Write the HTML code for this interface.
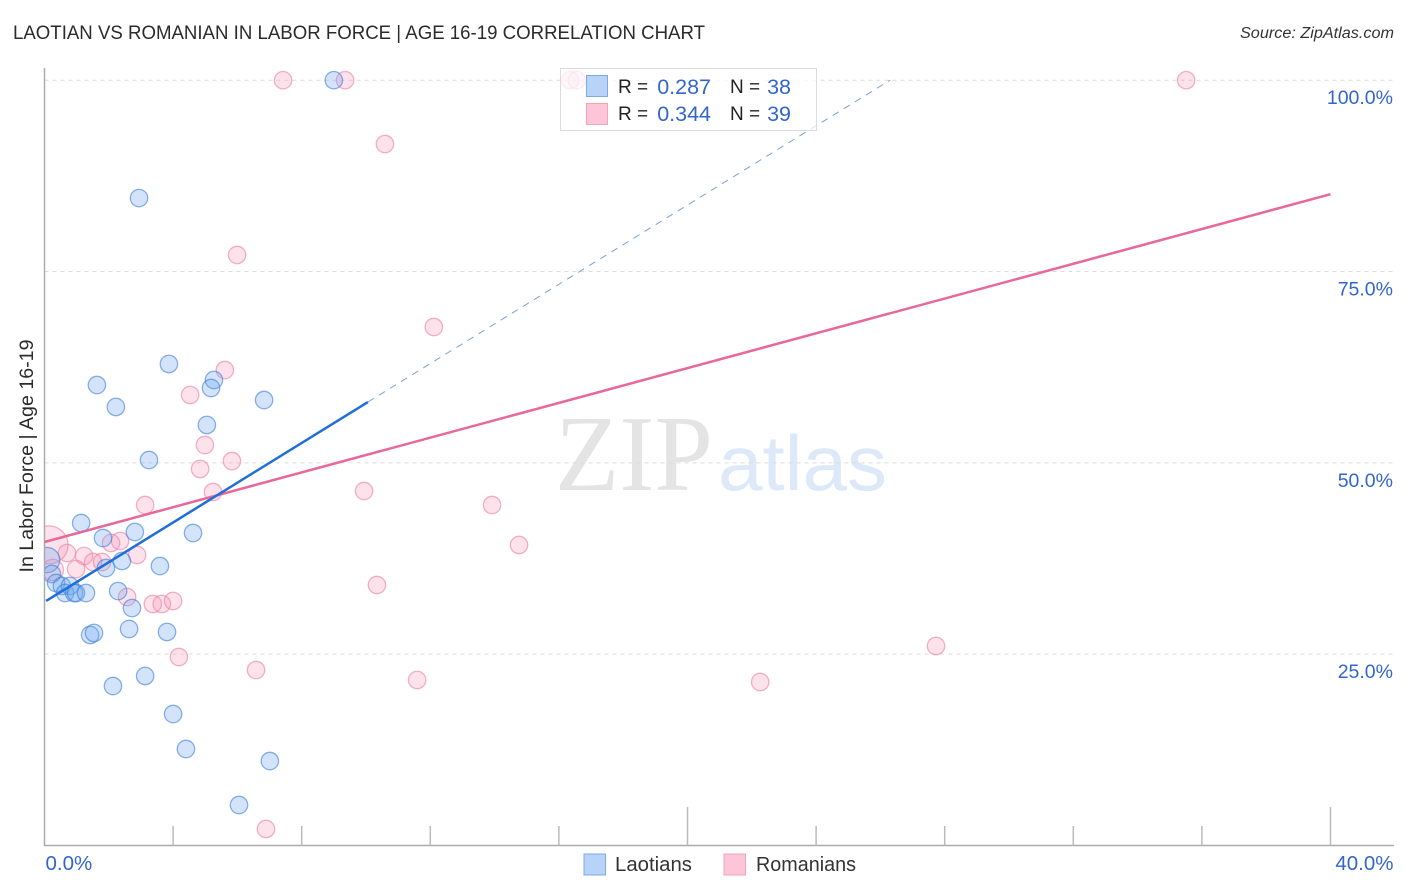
<!DOCTYPE html>
<html lang="en">
<head>
<meta charset="utf-8">
<title>Laotian vs Romanian in Labor Force | Age 16-19 Correlation Chart</title>
<style>
html,body{margin:0;padding:0;background:#fff;}
svg{display:block;font-family:"Liberation Sans",sans-serif;}
</style>
</head>
<body>
<svg id="chart" xmlns="http://www.w3.org/2000/svg" width="1406" height="892" viewBox="0 0 1406 892">
  <rect width="1406" height="892" fill="#fff"/>
  <defs><clipPath id="plot-clip"><rect x="45" y="60" width="1350" height="786"/></clipPath></defs>
  <text x="13" y="39" font-size="19.5" fill="#2b2b2b" textLength="692" lengthAdjust="spacingAndGlyphs">LAOTIAN VS ROMANIAN IN LABOR FORCE | AGE 16-19 CORRELATION CHART</text>
  <text x="1394" y="38" font-size="15.5" font-style="italic" fill="#333" text-anchor="end" textLength="154" lengthAdjust="spacingAndGlyphs">Source: ZipAtlas.com</text>
  <g>
    <text x="555" y="490" font-family="'Liberation Serif',serif" font-size="108" fill="#e4e4e4" textLength="158" lengthAdjust="spacingAndGlyphs">ZIP</text>
    <text x="718" y="490" font-size="78" fill="#dde8f8" textLength="169" lengthAdjust="spacingAndGlyphs">atlas</text>
  </g>
  <g id="grid"></g>
  <g id="axes"></g>
  <g id="points" clip-path="url(#plot-clip)"></g>
  <g id="lines"></g>
  <g>
    <rect x="560.5" y="68.5" width="256" height="62" fill="#fff" fill-opacity="0.75" stroke="#dcdcdc" stroke-width="1"/>
    <rect x="586.5" y="75.5" width="21" height="21" fill="#b8d3f8" stroke="#7fa9e6" stroke-width="1"/>
    <rect x="586.5" y="103.5" width="21" height="21" fill="#fcc6d8" stroke="#f2a3bd" stroke-width="1"/>
    <text x="618" y="93" font-size="19" fill="#222">R =</text>
    <text x="711" y="94" font-size="21.5" fill="#3366cc" text-anchor="end">0.287</text>
    <text x="730" y="93" font-size="19" fill="#222">N =</text>
    <text x="791" y="94" font-size="21.5" fill="#3366cc" text-anchor="end">38</text>
    <text x="618" y="120" font-size="19" fill="#222">R =</text>
    <text x="711" y="121" font-size="21.5" fill="#3366cc" text-anchor="end">0.344</text>
    <text x="730" y="120" font-size="19" fill="#222">N =</text>
    <text x="791" y="121" font-size="21.5" fill="#3366cc" text-anchor="end">39</text>
  </g>
  <text transform="translate(33,456) rotate(-90)" font-size="19.5" fill="#2b2b2b" text-anchor="middle" textLength="233" lengthAdjust="spacingAndGlyphs">In Labor Force | Age 16-19</text>
  <g>
    <rect x="584" y="854" width="21.5" height="21" fill="#b8d3f8" stroke="#7fa9e6" stroke-width="1"/>
    <text x="615" y="871" font-size="20" fill="#333" textLength="77" lengthAdjust="spacingAndGlyphs">Laotians</text>
    <rect x="724" y="854" width="21.5" height="21" fill="#fcc6d8" stroke="#f2a3bd" stroke-width="1"/>
    <text x="756" y="871" font-size="20" fill="#333" textLength="100" lengthAdjust="spacingAndGlyphs">Romanians</text>
  </g>
</svg>
<script>
const laotianX = [9.00,2.94,3.87,1.63,5.27,5.18,2.22,6.83,5.05,3.25,1.14,2.81,4.62,1.82,2.41,1.91,3.59,0.08,0.23,0.36,0.54,0.79,0.64,0.92,0.98,1.29,2.29,2.72,2.63,3.81,1.42,1.54,3.13,2.13,4.00,4.40,7.01,6.05];
const laotianY = [100,84.6,62.92,60.17,60.83,59.78,57.30,58.21,54.95,50.37,42.14,40.96,40.83,40.18,37.18,36.26,36.52,37.30,35.48,34.30,33.91,33.91,32.99,32.99,32.99,32.99,33.25,31.03,28.29,27.90,27.51,27.77,22.15,20.84,17.18,12.61,11.04,5.29];
const laotianSample = [1,1,1,1,1,1,1,1,1,1,1,1,1,1,1,1,1,2.1,1,1,1,1,1,1,1,1,1,1,1,1,1,1,1,1,1,1,1,1];
const romanianX = [7.42,9.35,16.35,16.56,35.51,10.59,5.99,12.11,5.61,4.53,4.99,5.83,4.84,9.94,5.24,13.92,3.13,14.76,2.35,2.07,2.88,1.23,0.70,1.51,1.79,0.98,0.26,0.14,2.57,3.37,3.65,4.00,4.18,6.58,10.34,11.59,22.26,27.73,6.89];
const romanianY = [100,100,100,100,100,91.66,77.16,67.75,62.13,58.87,52.33,50.24,49.20,46.32,46.19,44.49,44.49,39.27,39.79,39.53,37.96,37.83,38.22,37.04,37.04,36.13,36.00,39.27,32.47,31.56,31.56,31.95,24.63,22.93,34.04,21.63,21.36,26.07,2.16];
const romanianSample = [1,1,1,1,1,1,1,1,1,1,1,1,1,1,1,1,1,1,1,1,1,1,1,1,1,1,1.5,4.8,1,1,1,1,1,1,1,1,1,1,1];
const laotianTrendX = [0.05,10.06];
const laotianTrendY = [31.95,57.95];
const laotianProjectionX = [10.06,26.3];
const laotianProjectionY = [57.95,100];
const romanianTrendX = [0,40];
const romanianTrendY = [39.66,85.1];
const yTickValues = [25,50,75,100];
const yTickLabels = ["25.0%","50.0%","75.0%","100.0%"];
const xTickValues = [0,4,8,12,16,20,24,28,32,36,40];
const xMajorTicks = [0,20,40];
const xEndValues = [0,40];
const xEndLabels = ["0.0%","40.0%"];

const NS = "http://www.w3.org/2000/svg";
function xScale(v){ return 44.5 + v * 32.15; }
function yScale(v){ return 845.5 - v * 7.653; }
function rScale(s){ return 8.7 * Math.sqrt(s); }
function make(tag, attrs, parent){
  const el = document.createElementNS(NS, tag);
  for (const k in attrs) el.setAttribute(k, attrs[k]);
  parent.appendChild(el);
  return el;
}
const grid = document.getElementById("grid");
const axes = document.getElementById("axes");
const points = document.getElementById("points");
const lines = document.getElementById("lines");

yTickValues.forEach(function(v, i){
  const gl = make("line", {x1:44.5, x2:1393, y1:yScale(v), y2:yScale(v), stroke:"#dcdcdc", "stroke-width":1, "stroke-dasharray":"4 4"}, grid);
  
  
  const t = make("text", {x:1393, y:yScale(v)+24, "font-size":19.5, fill:"#3366cc", "text-anchor":"end"}, axes);
  t.textContent = yTickLabels[i];
  
  
});

const yAxis = make("line", {x1:44.5, x2:44.5, y1:68, y2:846, stroke:"#aaa", "stroke-width":1.5}, axes);


const xAxis = make("line", {x1:44, x2:1394, y1:845.5, y2:845.5, stroke:"#aaa", "stroke-width":1.5}, axes);



xTickValues.forEach(function(v){
  if (v === 0) return;
  const top = xMajorTicks.indexOf(v) >= 0 ? 807 : 826;
  const tick = make("line", {x1:xScale(v), x2:xScale(v), y1:top, y2:845.5, stroke:"#bbb", "stroke-width":1.5}, axes);
  
  
});

xEndValues.forEach(function(v, i){
  const anchorEnd = i === xEndValues.length - 1;
  const t = make("text", {x: anchorEnd ? xScale(v)+63 : xScale(v)+1, y:870, "font-size":20.5, fill:"#3366cc", "text-anchor": anchorEnd ? "end" : "start"}, axes);
  t.textContent = xEndLabels[i];
  
  
});

romanianX.forEach(function(v, i){
  const c = make("circle", {cx:xScale(v), cy:yScale(romanianY[i]), r:rScale(romanianSample[i]), fill:"#f78cae", "fill-opacity":0.25, stroke:"#ea7fa3", "stroke-opacity":0.6, "stroke-width":1.3}, points);
  
  
});
laotianX.forEach(function(v, i){
  const c = make("circle", {cx:xScale(v), cy:yScale(laotianY[i]), r:rScale(laotianSample[i]), fill:"#6ea5ee", "fill-opacity":0.3, stroke:"#3f7fd8", "stroke-opacity":0.6, "stroke-width":1.3}, points);
  
  
});

const projection = make("line", {x1:xScale(laotianProjectionX[0]), y1:yScale(laotianProjectionY[0]), x2:xScale(laotianProjectionX[1]), y2:yScale(laotianProjectionY[1]), stroke:"#7d9fd6", "stroke-width":1, "stroke-dasharray":"7 6"}, lines);


const romTrend = make("line", {x1:xScale(romanianTrendX[0]), y1:yScale(romanianTrendY[0]), x2:xScale(romanianTrendX[1]), y2:yScale(romanianTrendY[1]), stroke:"#e8689a", "stroke-width":2.5}, lines);


const laoTrend = make("line", {x1:xScale(laotianTrendX[0]), y1:yScale(laotianTrendY[0]), x2:xScale(laotianTrendX[1]), y2:yScale(laotianTrendY[1]), stroke:"#1f6fd8", "stroke-width":2.5}, lines);


</script>
</body>
</html>
